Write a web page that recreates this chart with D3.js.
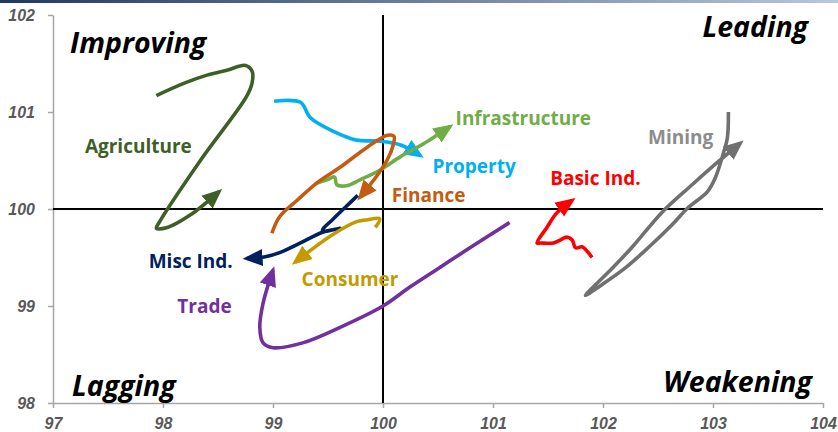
<!DOCTYPE html>
<meta charset="utf-8">
<body style="margin:0;background:#fff;">
<svg width="838" height="432"></svg>
<script src="https://d3js.org/d3.v7.min.js"></script>
<script>

// relative strength (x) vs momentum (y) tails
var sectors = ["Agriculture", "Property", "Infrastructure", "Finance", "Misc Ind.",
               "Consumer", "Trade", "Basic Ind.", "Mining"];

var agriculture = [[97.94,101.17],[98.20,101.30],[98.40,101.38],[98.58,101.43],[98.75,101.48],
                   [98.81,101.42],[98.81,101.30],[98.76,101.16],[98.34,100.50],[97.97,99.87],
                   [97.94,99.80],[98.04,99.81],[98.25,99.94],[98.51,100.18]];
var property = [[99.01,101.11],[99.25,101.10],[99.34,100.94],[99.55,100.80],[99.76,100.71],
                [99.97,100.70],[100.16,100.66],[100.34,100.55]];
var infrastructure = [[99.38,100.26],[99.49,100.30],[99.56,100.33],[99.58,100.25],[99.67,100.24],
                      [99.79,100.30],[99.97,100.40],[100.16,100.54],[100.38,100.68],[100.61,100.85]];
var finance = [[98.99,99.75],[99.06,99.92],[99.22,100.09],[99.40,100.27],[99.61,100.43],
               [99.86,100.64],[100.04,100.76],[100.10,100.75],[100.09,100.65],[100.04,100.51],
               [99.95,100.35],[99.79,100.12]];
var miscInd = [[99.77,100.14],[99.66,100.02],[99.54,99.89],[99.45,99.78],[99.61,99.80],
               [99.45,99.76],[99.25,99.65],[99.06,99.55],[98.94,99.51],[98.76,99.49]];
var consumer = [[99.93,99.81],[99.97,99.90],[99.86,99.89],[99.76,99.87],[99.52,99.72],[99.20,99.45]];
var trade = [[101.15,99.86],[100.79,99.60],[100.52,99.40],[100.25,99.20],[100.00,99.00],
             [99.61,98.78],[99.27,98.62],[99.00,98.57],[98.91,98.62],[98.88,98.78],
             [98.91,99.03],[99.00,99.37]];
var basicInd = [[101.90,99.50],[101.86,99.56],[101.81,99.61],[101.75,99.60],[101.72,99.68],
                [101.67,99.71],[101.61,99.68],[101.55,99.65],[101.43,99.65],[101.40,99.65],
                [101.49,99.81],[101.58,99.96],[101.72,100.09]];
var mining = [[103.14,101.00],[103.13,100.73],[103.09,100.56],[103.02,100.32],[102.95,100.18],
              [102.77,100.01],[102.63,99.84],[102.41,99.60],[102.20,99.39],[101.99,99.22],
              [101.84,99.11],[102.05,99.35],[102.26,99.60],[102.54,99.97],
              [102.81,100.25],[103.05,100.49],[103.25,100.68]];

var xTicks = [97, 98, 99, 100, 101, 102, 103, 104];
var yTicks = [98, 99, 100, 101, 102];
var quadrants = ["Improving", "Leading", "Lagging", "Weakening"];

var tails = [agriculture, property, infrastructure, finance, miscInd, consumer, trade, basicInd, mining];
var colors = ["#3e6027", "#00b0f0", "#70ad47", "#c55a11", "#002060", "#c49a00", "#7030a0", "#ff0000", "#707070"];
var labelColors = ["#3e6027", "#00b0f0", "#70ad47", "#c55a11", "#002060", "#c49a00", "#7030a0", "#ff0000", "#8c8c8c"];
// label anchor (left edge, baseline) in chart units
var labelPos = [[97.29,100.58],[100.45,100.37],[100.66,100.87],[100.08,100.07],[97.87,99.39],
                [99.26,99.21],[98.13,98.93],[101.52,100.25],[102.41,100.67]];

var svg = d3.select("svg");

var x = d3.scaleLinear().domain([97, 104]).range([53, 823]);
var y = d3.scaleLinear().domain([98, 102]).range([403, 15]);

// top band
var grad = svg.append("defs").append("linearGradient").attr("id", "band");
grad.append("stop").attr("offset", "0%").attr("stop-color", "#1f3864");
grad.append("stop").attr("offset", "100%").attr("stop-color", "#b9c6dc");
svg.append("rect").attr("x", 0).attr("y", 0).attr("width", 838).attr("height", 3).attr("fill", "url(#band)");

// axes
var yAxis = svg.append("g").attr("transform", "translate(" + x(97) + ",0)")
	.call(d3.axisLeft(y).tickValues(yTicks).tickSize(5).tickSizeOuter(0).tickPadding(13).tickFormat(d3.format("d")));
var xAxis = svg.append("g").attr("transform", "translate(0," + y(98) + ")")
	.call(d3.axisBottom(x).tickValues(xTicks).tickSize(5).tickSizeOuter(0).tickPadding(10).tickFormat(d3.format("d")));

[xAxis, yAxis].forEach(function(a) {
	a.select(".domain").attr("stroke", "#a6a6a6").attr("stroke-width", 1.5);
	a.selectAll(".tick line").attr("stroke", "#a6a6a6").attr("stroke-width", 1.5);
	a.selectAll(".tick text")
		.attr("fill", "#595959")
		.style("font-family", "'Liberation Sans', Arial, sans-serif")
		.style("font-size", "16px")
		.style("font-style", "italic")
		.style("font-weight", "bold");
});

// centre cross at 100/100
svg.append("line").attr("x1", x(100)).attr("x2", x(100)).attr("y1", y(102)).attr("y2", y(98))
	.attr("stroke", "#000").attr("stroke-width", 2);
svg.append("line").attr("x1", x(97)).attr("x2", x(104)).attr("y1", y(100)).attr("y2", y(100))
	.attr("stroke", "#000").attr("stroke-width", 2);

// quadrant titles
var quadPos = [[97.155, 101.61, "start"], [103.864, 101.77, "end"], [97.173, 98.07, "start"], [103.9, 98.11, "end"]];
quadrants.forEach(function(q, i) {
	svg.append("text")
		.attr("x", x(quadPos[i][0]))
		.attr("y", y(quadPos[i][1]))
		.attr("text-anchor", quadPos[i][2])
		.attr("fill", "#000")
		.style("font-family", "'Open Sans', sans-serif")
		.style("font-size", "28.5px")
		.style("font-style", "italic")
		.style("font-weight", "bold")
		.text(q);
});

// arrow markers
var defs = svg.select("defs");
colors.forEach(function(c, i) {
	defs.append("marker")
		.attr("id", "arrow" + i)
		.attr("markerUnits", "userSpaceOnUse")
		.attr("viewBox", "0 -9 20 18")
		.attr("refX", 16)
		.attr("refY", 0)
		.attr("markerWidth", 20)
		.attr("markerHeight", 18)
		.attr("orient", "auto")
		.append("path")
		.attr("d", "M0,-8.5L20,0L0,8.5Z")
		.attr("fill", c);
});

var line = d3.line()
	.x(function(d) { return x(d[0]); })
	.y(function(d) { return y(d[1]); })
	.curve(d3.curveCatmullRom.alpha(0.5));

tails.forEach(function(t, i) {
	svg.append("path")
		.attr("d", line(t))
		.attr("fill", "none")
		.attr("stroke", colors[i])
		.attr("stroke-width", 3.6)
		.attr("stroke-linejoin", "round")
		.attr("marker-end", "url(#arrow" + i + ")");
});

sectors.forEach(function(s, i) {
	svg.append("text")
		.attr("x", x(labelPos[i][0]))
		.attr("y", y(labelPos[i][1]))
		.attr("fill", labelColors[i])
		.style("font-family", "'Open Sans', sans-serif")
		.style("font-size", "19px")
		.style("font-weight", "bold")
		.text(s);
});

</script>
</body>
